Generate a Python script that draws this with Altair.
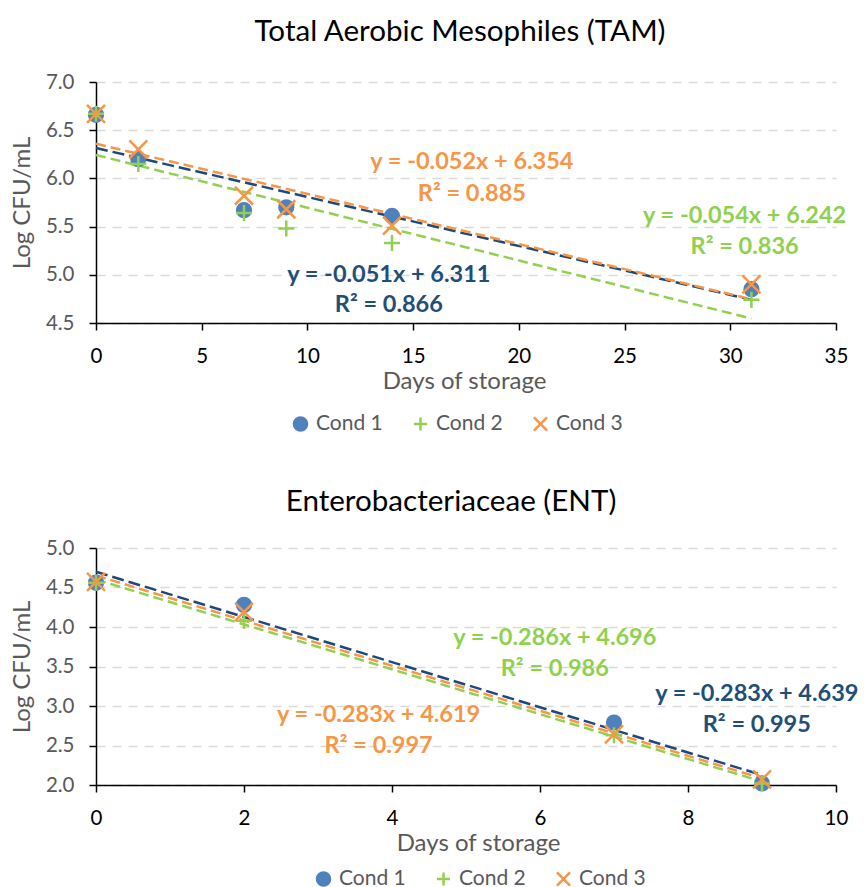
import altair as alt
import pandas as pd

# ---------------- data ----------------
conds = ["Cond 1", "Cond 2", "Cond 3"]

tam_days = [0, 2, 7, 9, 14, 31]
tam_cond1 = [6.66, 6.20, 5.67, 5.70, 5.61, 4.85]
tam_cond2 = [6.67, 6.15, 5.64, 5.48, 5.33, 4.74]
tam_cond3 = [6.67, 6.30, 5.82, 5.68, 5.51, 4.90]

ent_days = [0, 2, 7, 9]
ent_cond1 = [4.56, 4.28, 2.79, 2.02]
ent_cond2 = [4.56, 4.08, 2.63, 2.02]
ent_cond3 = [4.57, 4.19, 2.64, 2.07]

tam_equations = ["y = -0.051x + 6.311", "y = -0.054x + 6.242", "y = -0.052x + 6.354"]
tam_r2 = ["R² = 0.866", "R² = 0.836", "R² = 0.885"]
ent_equations = ["y = -0.283x + 4.639", "y = -0.286x + 4.696", "y = -0.283x + 4.619"]
ent_r2 = ["R² = 0.995", "R² = 0.986", "R² = 0.997"]

# label anchor positions (data units)
tam_label_x = [13.85, 30.68, 17.78]
tam_label_y = [4.994, 5.614, 6.166]
tam_label_y2 = [4.684, 5.286, 5.839]
ent_label_x = [8.93, 6.20, 3.82]
ent_label_y = [3.148, 3.861, 2.891]
ent_label_y2 = [2.756, 3.465, 2.490]

# ---------------- styles ----------------
marker_colors = ["#4F81BD", "#92D050", "#F79646"]
marker_fills = ["#4F81BD", "transparent", "transparent"]
line_colors = ["#1F497D", "#92D050", "#F79646"]
text_colors = ["#1F4E79", "#8FD14F", "#F79646"]
shapes = ["circle", "M-1,0L1,0M0,-1L0,1", "M-1,-1L1,1M-1,1L1,-1"]
FONT = "Lato"


def panel(days, series, title, xdom, xvals, ydom, yvals, height, eqs, r2s,
          lx, ly, ly2, dashes, legend, title_offset, title_dx, xtitle_x):
    rows = []
    for c, vals in zip(conds, series):
        for d, v in zip(days, vals):
            rows.append({"day": d, "val": v, "cond": c})
    df = pd.DataFrame(rows)

    xs = alt.Scale(domain=xdom, nice=False, zero=False)
    ys = alt.Scale(domain=ydom, nice=False, zero=False)
    xaxis = alt.Axis(values=xvals, title="Days of storage", format="d", titleX=xtitle_x)
    yaxis = alt.Axis(values=yvals, title="Log CFU/mL", format=".1f")

    lines = alt.Chart(df).transform_regression(
        "day", "val", groupby=["cond"]
    ).mark_line(strokeWidth=2.5).encode(
        x=alt.X("day:Q", scale=xs, axis=xaxis),
        y=alt.Y("val:Q", scale=ys, axis=yaxis),
        color=alt.Color("cond:N", scale=alt.Scale(domain=conds, range=line_colors), legend=None),
        strokeDash=alt.StrokeDash("cond:N", scale=alt.Scale(domain=conds, range=dashes), legend=None),
    )

    pts = alt.Chart(df).mark_point(filled=False, strokeWidth=2.5, opacity=1).encode(
        x=alt.X("day:Q", scale=xs, axis=xaxis),
        y=alt.Y("val:Q", scale=ys, axis=yaxis),
        shape=alt.Shape("cond:N", scale=alt.Scale(domain=conds, range=shapes), legend=legend),
        stroke=alt.Stroke("cond:N", scale=alt.Scale(domain=conds, range=marker_colors), legend=legend),
        fill=alt.Fill("cond:N", scale=alt.Scale(domain=conds, range=marker_fills), legend=legend),
        size=alt.Size("cond:N", scale=alt.Scale(domain=conds, range=[190, 324, 462]), legend=None),
    )

    texts = []
    for i in range(3):
        tdf = pd.DataFrame({"x": [lx[i], lx[i]], "y": [ly[i], ly2[i]], "t": [eqs[i], r2s[i]]})
        texts.append(
            alt.Chart(tdf).mark_text(font=FONT, fontSize=23.5, fontWeight="bold",
                                     color=text_colors[i], baseline="middle", align="center").encode(
                x=alt.X("x:Q", scale=xs, axis=xaxis),
                y=alt.Y("y:Q", scale=ys, axis=yaxis),
                text="t:N",
            )
        )

    return alt.layer(lines, pts, *texts).properties(
        width=740, height=height,
        title=alt.TitleParams(title, fontSize=29.6, font=FONT, fontWeight="normal",
                              color="black", anchor="middle", offset=title_offset, dx=title_dx),
    )


top_legend = alt.Legend(title=None, orient="none", direction="horizontal",
                        legendX=194, legendY=331)
bottom_legend = alt.Legend(title="\u00a0", titleOrient="left", titleFontSize=1, titlePadding=217,
                           orient="bottom", direction="horizontal", offset=12)

top = panel(tam_days, [tam_cond1, tam_cond2, tam_cond3], "Total Aerobic Mesophiles (TAM)",
            [0, 35], list(range(0, 36, 5)), [4.5, 7.0], [4.5, 5.0, 5.5, 6.0, 6.5, 7.0], 241,
            tam_equations, tam_r2, tam_label_x, tam_label_y, tam_label_y2,
            [[12, 5], [10, 5], [10, 5]], top_legend, 24, -6, 368)

bottom = panel(ent_days, [ent_cond1, ent_cond2, ent_cond3], "Enterobacteriaceae (ENT)",
               [0, 10], list(range(0, 11, 2)), [2.0, 5.0], [2.0, 2.5, 3.0, 3.5, 4.0, 4.5, 5.0], 237,
               ent_equations, ent_r2, ent_label_x, ent_label_y, ent_label_y2,
               [[12, 5], [10, 5], [10, 5]], bottom_legend, 20, -15, 382)

chart = alt.vconcat(top, bottom, spacing=51).properties(
    padding={"left": 10, "top": 17, "right": 5, "bottom": 0}
).configure_view(stroke=None).configure_axis(
    labelFont=FONT, titleFont=FONT, labelFontSize=20.5, titleFontSize=24,
    titleFontWeight="normal", titleColor="#595959", labelFlush=False,
    domainColor="black", domainWidth=1.5, tickColor="black", tickWidth=1.5, tickSize=7,
).configure_axisY(
    grid=True, gridColor="#D9D9D9", gridDash=[9, 7], gridWidth=1.5,
    labelColor="#595959", labelPadding=15, titlePadding=11,
).configure_axisX(
    grid=False, labelColor="black", labelPadding=16, titlePadding=3,
).configure_legend(
    labelFont=FONT, labelFontSize=21, labelColor="#595959", symbolSize=170,
    symbolStrokeWidth=2.5, columnPadding=25, labelOffset=5, symbolOpacity=1,
)

chart.save("out.html", embed_options={"renderer": "svg", "actions": False})
